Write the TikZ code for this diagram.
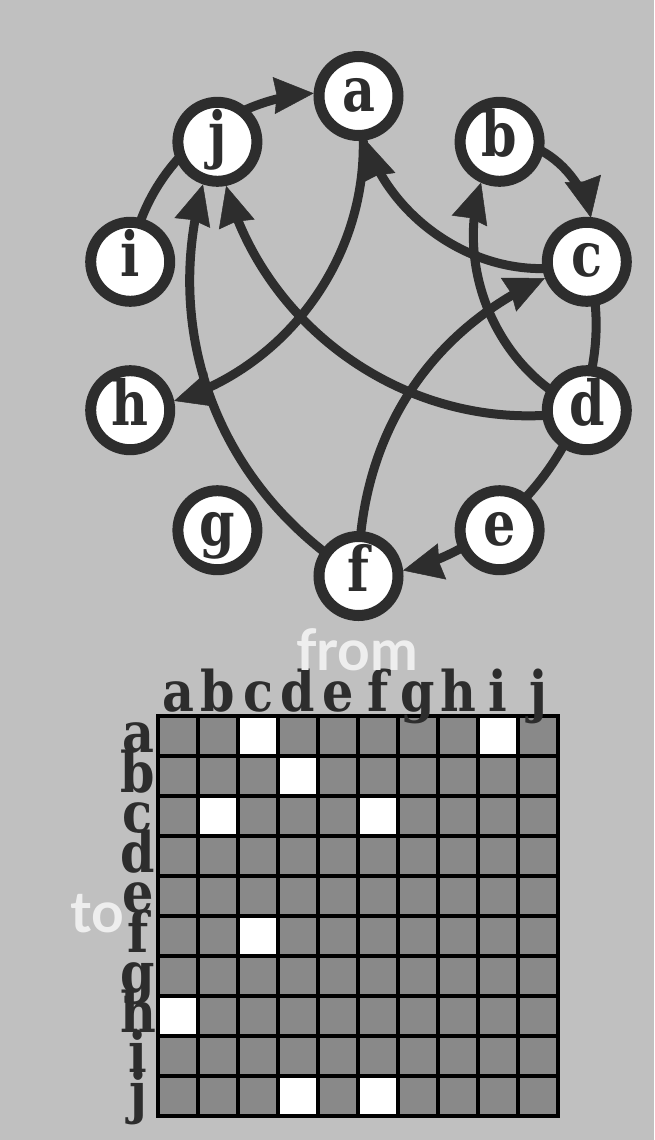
\documentclass[tikz,border=0pt]{standalone}
\usepackage{fontspec}
\newfontfamily\nodefont[FakeStretch=0.82]{DejaVu Serif}
\newfontfamily\labfont[FakeStretch=0.88]{DejaVu Serif}
\newfontfamily\axisfont{Lato}
\usetikzlibrary{arrows.meta,decorations.markings}
\definecolor{bgc}{HTML}{C0C0C0}
\definecolor{ink}{HTML}{2D2D2D}
\definecolor{cellgray}{HTML}{898989}
\definecolor{axiswhite}{HTML}{EEEEEE}
\pgfdeclarelayer{bglayer}
\pgfdeclarelayer{edgelayer}
\pgfsetlayers{bglayer,edgelayer,main}
\newcommand\gedge[3]{%
  \begin{scope}[even odd rule]
    \clip (-10,-10) rectangle (700,1200) (#2.center) circle[radius=58pt];
    \draw[edgeline] (#1.center) to[bend left=#3] (#2.center);
  \end{scope}
  \path[arrowmark] (#1.center) to[bend left=#3] (#2.center);
}
\begin{document}
\begin{tikzpicture}[x=1pt,y=-1pt,
  vnode/.style={circle,draw=ink,fill=white,line width=11pt,minimum size=79pt,inner sep=0pt,
    text height=30pt,text depth=0pt,text=ink,font=\nodefont\bfseries\fontsize{62}{62}\selectfont},
  edgeline/.style={draw=ink,line width=9pt},
  arrowmark/.style={draw=ink,fill=ink,decorate,decoration={markings,
    mark=at position -45pt with {\arrow{Stealth[length=40pt,width=37pt,inset=3pt,line width=0.5pt,color=ink]}}}},
  mlabel/.style={anchor=base,inner sep=0pt,text=ink,font=\labfont\bfseries\fontsize{56}{56}\selectfont},
  axislabel/.style={anchor=base,inner sep=0pt,text=axiswhite,font=\axisfont\bfseries\fontsize{57}{57}\selectfont},
  gridline/.style={draw=black,line width=4pt,line cap=rect}]
\useasboundingbox (0,0) rectangle (654,1140);
\begin{pgfonlayer}{bglayer}
  \fill[bgc] (0,0) rectangle (654,1140);
\end{pgfonlayer}
% graph nodes
\node[vnode] (a) at (358.5,96) {a};
\node[vnode] (b) at (499.6,141.8) {b};
\node[vnode] (c) at (586.8,261.8) {c};
\node[vnode] (d) at (586.8,410.2) {d};
\node[vnode] (e) at (499.6,530.2) {e};
\node[vnode] (f) at (358.5,576) {f};
\node[vnode] (g) at (217.4,530.2) {g};
\node[vnode] (h) at (130.2,410.2) {h};
\node[vnode] (i) at (130.2,261.8) {i};
\node[vnode] (j) at (217.4,141.8) {j};
% edges
\begin{pgfonlayer}{edgelayer}
  \gedge{i}{a}{46}
  \gedge{c}{f}{53}
  \gedge{b}{c}{60}
  \gedge{c}{a}{53}
  \gedge{a}{h}{47}
  \gedge{f}{c}{36}
  \gedge{f}{j}{40}
  \gedge{d}{b}{50}
  \gedge{d}{j}{47}
\end{pgfonlayer}
% matrix
\fill[cellgray] (158,716) rectangle (558,1116);
\foreach \cc/\rr in {2/0,8/0,3/1,1/2,5/2,2/5,0/7,3/9,5/9}
  \fill[white] (158+40*\cc,716+40*\rr) rectangle (198+40*\cc,756+40*\rr);
\foreach \k in {0,...,10} {
  \draw[gridline] (158+40*\k,716) -- (158+40*\k,1116);
  \draw[gridline] (158,716+40*\k) -- (558,716+40*\k);
}
\foreach \l [count=\n from 0] in {a,b,c,d,e,f,g,h,i,j} {
  \node[mlabel] (col\l) at (178+40*\n,711) {\l};
  \node[mlabel] (row\l) at (138,752+40*\n) {\l};
}
\node[axislabel] (fromlabel) at (357,670) {from};
\node[axislabel] (tolabel) at (97.5,932) {to};
\end{tikzpicture}
\end{document}
